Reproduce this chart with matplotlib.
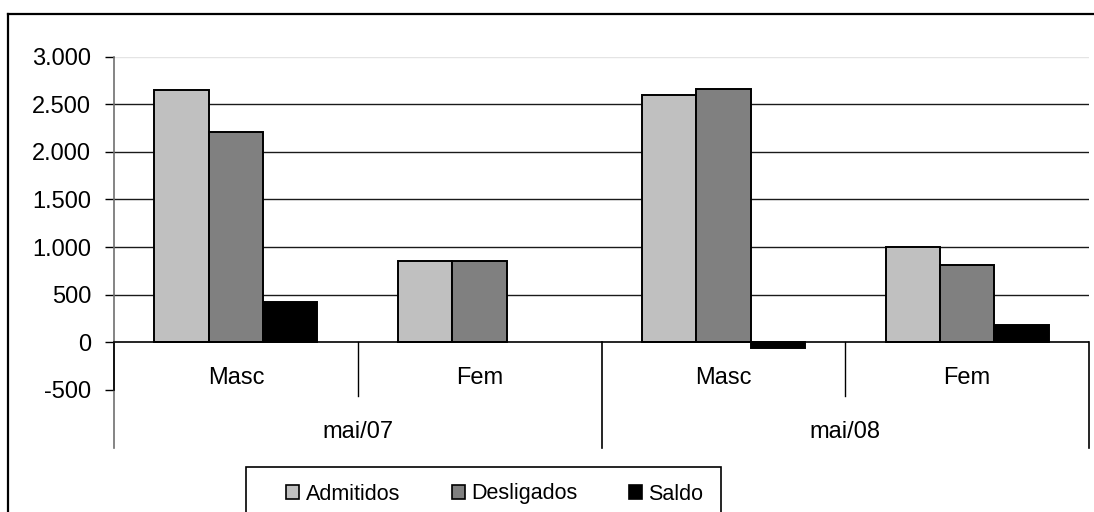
import matplotlib
matplotlib.use('Agg')
import numpy as np
from matplotlib import pyplot as plt
from matplotlib.lines import Line2D
from matplotlib.patches import Rectangle

plt.rcParams['font.family'] = ['Liberation Sans', 'DejaVu Sans']

# data
groups = ['mai/07', 'mai/08']
sexes = ['Masc', 'Fem', 'Masc', 'Fem']
admitidos = [2645, 858, 2602, 1000]
desligados = [2205, 855, 2661, 815]
saldo = [425, 0, -60, 185]
series_names = ['Admitidos', 'Desligados', 'Saldo']
series_colors = ['#C0C0C0', '#808080', '#000000']
yticks = list(range(-500, 3001, 500))

W, H = 1094, 512


def fx(px):
    return px / W


def fy(py):
    return 1 - py / H


def main():
    fig = plt.figure(figsize=(W / 100, H / 100), dpi=100)
    ax = fig.add_axes([fx(114), fy(389.9), fx(1089) - fx(114), fy(56.7) - fy(389.9)])

    ax.set_xlim(-0.5, 3.5)
    ax.set_ylim(-500, 3000)

    # gridlines
    for v in yticks:
        if v <= 0:
            continue
        col = '#e4e4e4' if v == 3000 else '#1a1a1a'
        ax.axhline(v, color=col, lw=1.0, zorder=1)

    x = np.arange(len(sexes))
    w = 0.223
    for i, (vals, c) in enumerate(zip([admitidos, desligados, saldo], series_colors)):
        b = ax.bar(x + (i - 1) * w, vals, width=w, color=c, edgecolor='black',
                   linewidth=1.4, zorder=3, label=series_names[i])
        for patch, v in zip(b, vals):
            if v == 0:
                patch.set_linewidth(0)

    # zero line / category axis
    ax.axhline(0, color='black', lw=1.2, zorder=4)

    for s in ax.spines.values():
        s.set_visible(False)

    # y axis line, extended down through the category label area
    ax.plot([-0.5, -0.5], [3000, -1110], color='#707070', lw=1.2, clip_on=False, zorder=5)
    ax.plot([-0.5, -0.5], [0, -500], color='black', lw=1.2, clip_on=False, zorder=5)

    ax.set_yticks(yticks)
    ax.set_yticklabels([f'{v:,}'.replace(',', '.') for v in yticks])
    ax.tick_params(axis='y', direction='out', length=6.5, width=1, color='black',
                   pad=10, labelsize=17)
    ax.set_xticks([])

    # category separators
    for b in [0.5, 2.5]:
        ax.plot([b, b], [0, -564], color='black', lw=1, clip_on=False)
    for b in [1.5, 3.5]:
        ax.plot([b, b], [0, -1110], color='black', lw=1.2, clip_on=False)

    for i, s in enumerate(sexes):
        ax.text(i, -375, s, ha='center', va='center', fontsize=17, clip_on=False)
    for j, g in enumerate(groups):
        ax.text(2 * j + 0.5, -937, g, ha='center', va='center', fontsize=17, clip_on=False)

    # legend
    handles = [Rectangle((0, 0), 1, 1, facecolor=c, edgecolor='black', lw=1.2)
               for c in series_colors]
    fig.legend(handles, series_names, ncol=3, loc='center',
               bbox_to_anchor=(fx(495), fy(494)), frameon=False, fontsize=15.5,
               handlelength=0.6, handleheight=0.6, handletextpad=0.3,
               columnspacing=2.4)
    fig.add_artist(Rectangle((fx(246), fy(530)), fx(721) - fx(246), fy(466.7) - fy(530),
                             transform=fig.transFigure, facecolor='none',
                             edgecolor='black', lw=1.2))

    # outer chart border
    fig.add_artist(Line2D([fx(8), fx(1100)], [fy(14), fy(14)], transform=fig.transFigure,
                          color='black', lw=1.6))
    fig.add_artist(Line2D([fx(8), fx(8)], [fy(14), fy(520)], transform=fig.transFigure,
                          color='black', lw=1.6))

    fig.savefig('out.png', dpi=100)


if __name__ == '__main__':
    main()
